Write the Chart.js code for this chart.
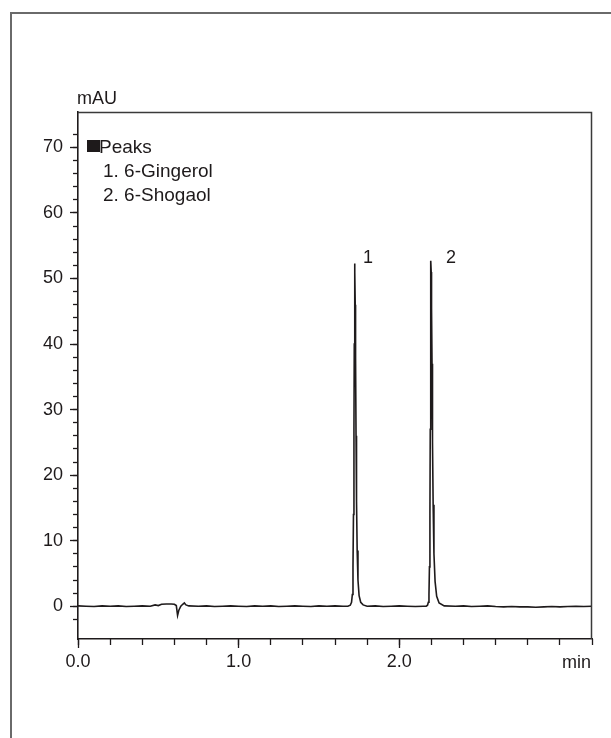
<!DOCTYPE html>
<html>
<head>
<meta charset="utf-8">
<script src="https://cdn.jsdelivr.net/npm/chart.js@4.4.1/dist/chart.umd.min.js"></script>
<style>
  html, body { margin: 0; padding: 0; background: #fff; }
  #wrap { position: relative; width: 611px; height: 738px; }
  canvas { display: block; }
</style>
</head>
<body>
<div id="wrap"><canvas id="c" width="611" height="738"></canvas></div>
<script>
// ---- data (retention time in min, absorbance in mAU) ----
const times = [
  0.00, 0.05, 0.10, 0.15, 0.20, 0.25, 0.30, 0.35, 0.40, 0.45,
  0.48, 0.50, 0.52, 0.55, 0.58, 0.600, 0.612, 0.620, 0.628, 0.640,
  0.652, 0.662, 0.672, 0.690, 0.75, 0.80, 0.85, 0.90, 0.95, 1.00,
  1.05, 1.10, 1.15, 1.20, 1.25, 1.30, 1.35, 1.40, 1.45, 1.50,
  1.55, 1.60, 1.65, 1.680, 1.695, 1.703, 1.708, 1.712, 1.715, 1.718,
  1.720, 1.722, 1.723, 1.724, 1.726, 1.728, 1.731, 1.734, 1.738, 1.743,
  1.750, 1.760, 1.775, 1.80, 1.85, 1.90, 1.95, 2.00, 2.05, 2.10,
  2.15, 2.168, 2.176, 2.181, 2.185, 2.188, 2.191, 2.193, 2.195, 2.196,
  2.197, 2.199, 2.201, 2.204, 2.207, 2.211, 2.216, 2.223, 2.233, 2.248,
  2.28, 2.35, 2.40, 2.45, 2.50, 2.55, 2.60, 2.65, 2.70, 2.75,
  2.80, 2.85, 2.90, 2.95, 3.00, 3.05, 3.10, 3.15, 3.20
];
const absorbance = [
  0.05, 0.00, -0.05, 0.05, 0.00, 0.05, -0.05, 0.00, 0.05, 0.00,
  0.20, 0.10, 0.30, 0.35, 0.35, 0.30, 0.10, -1.40, -0.60, 0.00,
  0.30, 0.50, 0.20, 0.05, 0.00, 0.05, -0.05, 0.00, 0.05, 0.00,
  -0.05, 0.05, 0.00, 0.05, -0.05, 0.00, 0.05, 0.00, -0.05, 0.05,
  0.00, 0.05, 0.00, 0.00, 0.15, 0.60, 1.80, 6.0, 14.0, 27.0,
  40.0, 50.0, 52.3, 51.0, 46.0, 38.0, 26.0, 16.0, 8.5, 4.0,
  1.6, 0.6, 0.2, 0.00, 0.05, -0.05, 0.00, 0.05, 0.00, -0.05,
  0.00, 0.00, 0.15, 0.60, 1.80, 6.0, 14.0, 27.0, 41.0, 50.5,
  52.7, 51.0, 45.5, 37.0, 25.0, 15.5, 8.0, 3.8, 1.5, 0.5,
  0.05, 0.00, 0.05, -0.05, 0.00, 0.05, -0.05, -0.10, -0.05, -0.10,
  -0.10, -0.15, -0.10, -0.05, -0.10, -0.05, 0.00, -0.05, 0.00
];
const xMajorTicks = [0.0, 1.0, 2.0, 3.0];
const xTickLabels = ['0.0', '1.0', '2.0', ''];
const yMajorTicks = [0, 10, 20, 30, 40, 50, 60, 70];
const peakNames = ['1. 6-Gingerol', '2. 6-Shogaol'];
const peakNumbers = ['1', '2'];
const peakLabelTimes = [1.775, 2.291];
const peakLabelValues = [52.3, 52.3];

const INK = '#1e1a1b';
const FONT = '"Liberation Sans", Arial, Helvetica, sans-serif';

const decor = {
  id: 'decor',
  beforeDraw(chart) {
    const ctx = chart.ctx;
    ctx.save();
    ctx.fillStyle = '#fff';
    ctx.fillRect(0, 0, chart.width, chart.height);
    // outer frame (top + left)
    ctx.strokeStyle = '#6a6a6a';
    ctx.lineWidth = 2;
    ctx.beginPath();
    ctx.moveTo(11, chart.height);
    ctx.lineTo(11, 13);
    ctx.lineTo(chart.width, 13);
    ctx.stroke();
    ctx.restore();
  },
  afterDraw(chart) {
    const ctx = chart.ctx;
    const a = chart.chartArea;
    const xs = chart.scales.x, ys = chart.scales.y;
    ctx.save();
    // plot frame top + right
    ctx.strokeStyle = '#3a3a3a';
    ctx.lineWidth = 1.5;
    ctx.beginPath();
    ctx.moveTo(a.left, a.top + 0.5);
    ctx.lineTo(a.right - 0.5, a.top + 0.5);
    ctx.lineTo(a.right - 0.5, a.bottom);
    ctx.stroke();

    ctx.fillStyle = INK;
    ctx.textBaseline = 'alphabetic';
    ctx.font = '18px ' + FONT;
    ctx.textAlign = 'left';
    ctx.fillText('mAU', a.left - 1, a.top - 8);
    ctx.textAlign = 'right';
    ctx.fillText('min', a.right - 1, a.bottom + 29);

    // peak numbers
    ctx.textAlign = 'left';
    for (let i = 0; i < peakNumbers.length; i++) {
      ctx.fillText(peakNumbers[i], xs.getPixelForValue(peakLabelTimes[i]), ys.getPixelForValue(peakLabelValues[i]));
    }

    // legend block
    ctx.fillRect(a.left + 9, a.top + 28, 13, 12);
    ctx.font = '19px ' + FONT;
    ctx.fillText('Peaks', a.left + 21, a.top + 40.5);
    for (let i = 0; i < peakNames.length; i++) {
      ctx.fillText(peakNames[i], a.left + 25, a.top + 64.5 + i * 24);
    }
    ctx.restore();
  }
};

function keep(list) {
  return (s) => { s.ticks = s.ticks.filter(t => list.some(v => Math.abs(v - t.value) < 1e-6)); };
}
function evenInts(s) {
  s.ticks = s.ticks.filter(t => Math.abs(t.value / 2 - Math.round(t.value / 2)) < 1e-6);
}

new Chart(document.getElementById('c'), {
  type: 'line',
  data: {
    datasets: [{
      data: times.map((t, i) => ({ x: t, y: absorbance[i] })),
      borderColor: INK,
      borderWidth: 1.6,
      pointRadius: 0,
      tension: 0,
      fill: false
    }]
  },
  plugins: [decor],
  options: {
    responsive: false,
    animation: false,
    devicePixelRatio: 1,
    layout: { padding: { left: 0, top: 112, right: 19, bottom: 59 } },
    plugins: { legend: { display: false }, tooltip: { enabled: false }, title: { display: false } },
    scales: {
      x: {
        type: 'linear', position: 'bottom', min: 0, max: 3.2, weight: 0,
        afterBuildTicks: keep(xMajorTicks),
        afterFit: (s) => { s.height = 40; },
        ticks: {
          stepSize: 1, autoSkip: false, maxRotation: 0, padding: 3,
          color: INK, font: { family: FONT, size: 18 },
          callback: (v) => { const i = xMajorTicks.findIndex(m => Math.abs(m - v) < 1e-6); return i >= 0 ? xTickLabels[i] : ''; }
        },
        grid: { drawOnChartArea: false, tickLength: 9, tickColor: INK, tickWidth: 1.3 },
        border: { display: true, color: INK, width: 1.6 }
      },
      xm: {
        type: 'linear', position: 'bottom', min: 0, max: 3.2, weight: -1,
        afterFit: (s) => { s.height = 0; },
        ticks: { stepSize: 0.2, autoSkip: false, maxRotation: 0, display: false },
        grid: { drawOnChartArea: false, tickLength: 6, tickColor: INK, tickWidth: 1.3 },
        border: { display: false }
      },
      y: {
        type: 'linear', position: 'left', min: -5, max: 75.4, weight: 0,
        afterBuildTicks: keep(yMajorTicks),
        afterFit: (s) => { s.width = 78; },
        ticks: {
          stepSize: 10, autoSkip: false, padding: 7,
          color: INK, font: { family: FONT, size: 18 },
          callback: (v) => String(v)
        },
        grid: { drawOnChartArea: false, tickLength: 8, tickColor: INK, tickWidth: 1.3 },
        border: { display: true, color: INK, width: 1.6 }
      },
      ym: {
        type: 'linear', position: 'left', min: -5, max: 75.4, weight: -1,
        afterBuildTicks: evenInts,
        afterFit: (s) => { s.width = 0; },
        ticks: { stepSize: 2, autoSkip: false, display: false },
        grid: { drawOnChartArea: false, tickLength: 5, tickColor: INK, tickWidth: 1.3 },
        border: { display: false }
      }
    }
  }
});
</script>
</body>
</html>
